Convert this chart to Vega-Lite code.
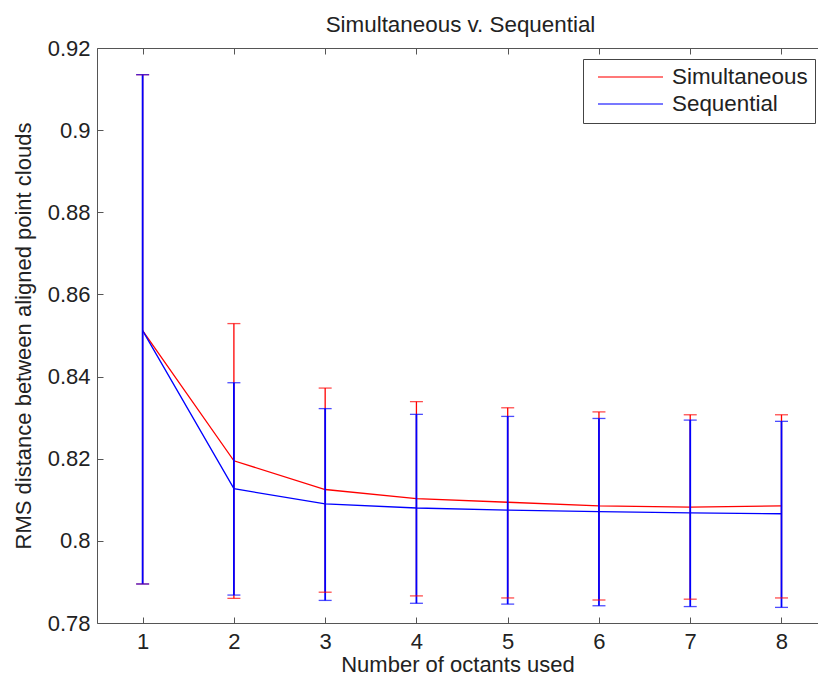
{
  "$schema": "https://vega.github.io/schema/vega-lite/v6.json",
  "autosize": "none",
  "width": 721,
  "height": 575,
  "padding": {"left": 97, "top": 48, "right": 0, "bottom": 63},
  "background": "white",
  "title": {
    "text": "Simultaneous v. Sequential",
    "font": "Liberation Sans",
    "fontSize": 22.4,
    "fontWeight": "normal",
    "color": "#222",
    "baseline": "alphabetic",
    "frame": "group",
    "offset": 16,
    "dy": 33,
    "dx": 3
  },
  "data": {
    "values": [
      {"n": 1, "series": "Simultaneous", "mean": 0.8512, "lo": 0.7895, "hi": 0.9135},
      {"n": 2, "series": "Simultaneous", "mean": 0.8195, "lo": 0.7860, "hi": 0.8529},
      {"n": 3, "series": "Simultaneous", "mean": 0.8125, "lo": 0.7875, "hi": 0.8372},
      {"n": 4, "series": "Simultaneous", "mean": 0.8103, "lo": 0.7866, "hi": 0.8339},
      {"n": 5, "series": "Simultaneous", "mean": 0.8094, "lo": 0.7861, "hi": 0.8324},
      {"n": 6, "series": "Simultaneous", "mean": 0.8085, "lo": 0.7856, "hi": 0.8314},
      {"n": 7, "series": "Simultaneous", "mean": 0.8082, "lo": 0.7858, "hi": 0.8307},
      {"n": 8, "series": "Simultaneous", "mean": 0.8085, "lo": 0.7861, "hi": 0.8307},
      {"n": 1, "series": "Sequential", "mean": 0.8512, "lo": 0.7895, "hi": 0.9135},
      {"n": 2, "series": "Sequential", "mean": 0.8127, "lo": 0.7868, "hi": 0.8385},
      {"n": 3, "series": "Sequential", "mean": 0.8090, "lo": 0.7855, "hi": 0.8322},
      {"n": 4, "series": "Sequential", "mean": 0.8080, "lo": 0.7848, "hi": 0.8308},
      {"n": 5, "series": "Sequential", "mean": 0.8075, "lo": 0.7846, "hi": 0.8303},
      {"n": 6, "series": "Sequential", "mean": 0.8071, "lo": 0.7842, "hi": 0.8298},
      {"n": 7, "series": "Sequential", "mean": 0.8068, "lo": 0.7840, "hi": 0.8294},
      {"n": 8, "series": "Sequential", "mean": 0.8066, "lo": 0.7838, "hi": 0.8291}
    ]
  },
  "layer": [
    {
      "mark": {"type": "line", "strokeWidth": 1.3},
      "encoding": {
        "x": {
          "field": "n", "type": "quantitative",
          "scale": {"domain": [0.5, 8.4], "nice": false, "zero": false},
          "axis": {"orient": "bottom", "values": [1, 2, 3, 4, 5, 6, 7, 8], "format": "d", "title": "Number of octants used", "tickSize": -6, "labelPadding": 14, "titlePadding": 2}
        },
        "y": {
          "field": "mean", "type": "quantitative",
          "scale": {"domain": [0.78, 0.92], "nice": false, "zero": false},
          "axis": {"orient": "left", "values": [0.78, 0.8, 0.82, 0.84, 0.86, 0.88, 0.9, 0.92], "format": "~g", "title": "RMS distance between aligned point clouds", "tickSize": -6, "labelPadding": 13, "titlePadding": 12}
        },
        "color": {
          "field": "series", "type": "nominal",
          "scale": {"domain": ["Simultaneous", "Sequential"], "range": ["#ff0000", "#0000ff"]},
          "legend": {
            "title": null,
            "orient": "none",
            "legendX": 486,
            "legendY": 11,
            "padding": 7,
            "clipHeight": 22,
            "rowPadding": 4,
            "symbolType": "stroke",
            "symbolSize": 4225,
            "symbolStrokeWidth": 1.3,
            "symbolOffset": 7,
            "labelOffset": 8,
            "labelFont": "Liberation Sans",
            "labelFontSize": 22.4,
            "labelColor": "#222",
            "strokeColor": "#444",
            "fillColor": "white"
          }
        },
        "detail": {"field": "series"}
      }
    },
    {
      "mark": {"type": "rule"},
      "encoding": {
        "x": {"field": "n", "type": "quantitative", "axis": {"orient": "top", "values": [1, 2, 3, 4, 5, 6, 7, 8], "labels": false, "title": null, "tickSize": -6}},
        "y": {"field": "lo", "type": "quantitative"},
        "y2": {"field": "hi"},
        "color": {"field": "series", "type": "nominal"},
        "strokeWidth": {"condition": {"test": "datum.series === 'Sequential'", "value": 1.8}, "value": 1.3}
      }
    },
    {
      "mark": {"type": "tick", "orient": "horizontal", "size": 13, "thickness": 1.3},
      "encoding": {
        "x": {"field": "n", "type": "quantitative", "axis": null},
        "y": {"field": "lo", "type": "quantitative"},
        "color": {"field": "series", "type": "nominal"}
      }
    },
    {
      "mark": {"type": "tick", "orient": "horizontal", "size": 13, "thickness": 1.3},
      "encoding": {
        "x": {"field": "n", "type": "quantitative", "axis": null},
        "y": {"field": "hi", "type": "quantitative"},
        "color": {"field": "series", "type": "nominal"}
      }
    }
  ],
  "resolve": {"axis": {"x": "independent"}},
  "config": {
    "view": {"stroke": null},
    "axis": {
      "grid": false,
      "domainColor": "#555",
      "tickColor": "#555",
      "labelFont": "Liberation Sans",
      "labelFontSize": 22,
      "labelColor": "#222",
      "titleFont": "Liberation Sans",
      "titleFontSize": 22,
      "titleFontWeight": "normal",
      "titleColor": "#222"
    }
  }
}
